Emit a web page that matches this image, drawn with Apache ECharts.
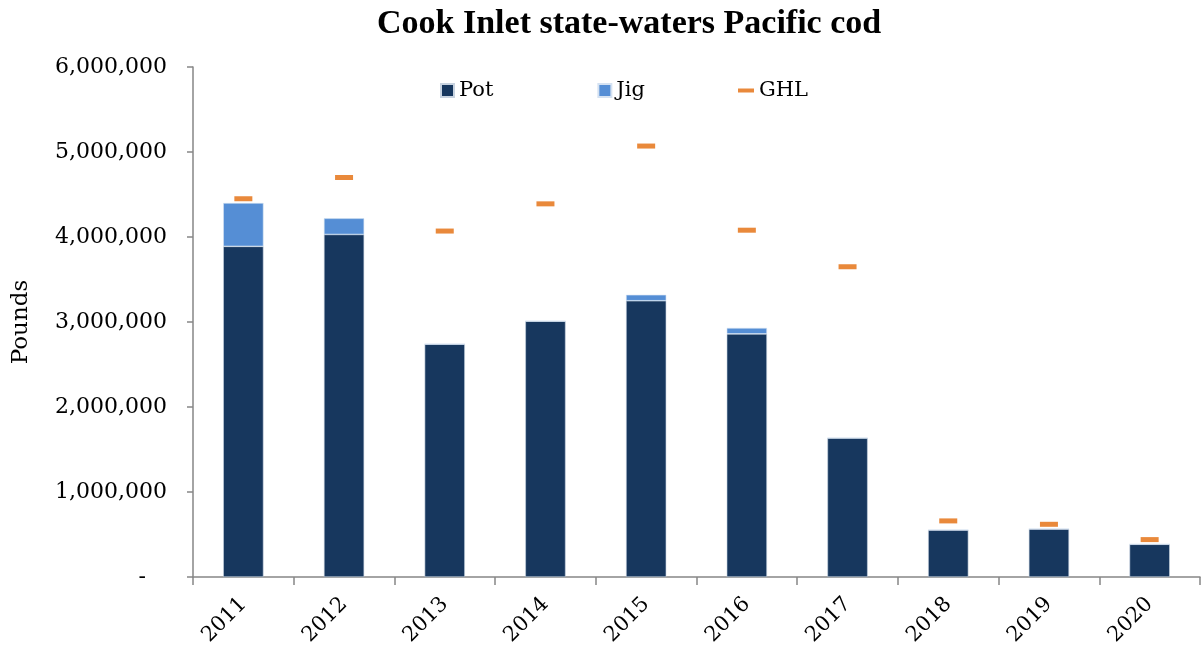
<!DOCTYPE html>
<html>
<head>
<meta charset="utf-8">
<script src="https://cdn.jsdelivr.net/npm/echarts@6/dist/echarts.min.js"></script>
<style>html,body{margin:0;padding:0;background:#fff}#c{width:1202px;height:658px}</style>
</head>
<body>
<div id="c"></div>
<script>
var years = ['2011','2012','2013','2014','2015','2016','2017','2018','2019','2020'];
var pot = [3890000, 4030000, 2740000, 3010000, 3250000, 2860000, 1635000, 553000, 565000, 385000];
var jig = [510000, 190000, 0, 0, 70000, 70000, 0, 0, 0, 0];
var ghl = [4450000, 4700000, 4070000, 4390000, 5070000, 4080000, 3650000, 660000, 620000, 440000];
var yTicks = [0, 1000000, 2000000, 3000000, 4000000, 5000000, 6000000];

var FONT = '"DejaVu Serif", "Liberation Serif", serif';
var TFONT = '"Liberation Serif", "DejaVu Serif", serif';
var chart = echarts.init(document.getElementById('c'));
chart.setOption({
  backgroundColor: '#fff',
  animation: false,
  title: {
    text: 'Cook Inlet state-waters Pacific cod',
    left: 372, top: 2,
    textStyle: {fontFamily: TFONT, fontWeight: 'bold', fontSize: 34, color: '#000'}
  },
  legend: [{
    data: ['Pot', 'Jig'],
    left: 435, top: 75,
    itemWidth: 13, itemHeight: 13, itemGap: 104,
    icon: 'rect',
    textStyle: {fontFamily: FONT, fontSize: 21, color: '#000'}
  }, {
    data: ['GHL'],
    left: 733, top: 75,
    itemWidth: 16, itemHeight: 4,
    icon: 'rect',
    textStyle: {fontFamily: FONT, fontSize: 21, color: '#000'}
  }],
  grid: {left: 193, right: 2, top: 67, bottom: 81, containLabel: false},
  xAxis: {
    type: 'category',
    data: years,
    axisLine: {lineStyle: {color: '#868686', width: 1.5}},
    axisTick: {show: true, length: 8, alignWithLabel: false, lineStyle: {color: '#868686', width: 1.5}},
    axisLabel: {rotate: 45, fontFamily: FONT, fontSize: 21, color: '#000', margin: 24}
  },
  yAxis: {
    type: 'value',
    min: yTicks[0], max: yTicks[yTicks.length-1], interval: 1000000,
    name: 'Pounds', nameLocation: 'middle', nameGap: 160, nameRotate: 90,
    nameTextStyle: {fontFamily: FONT, fontSize: 23, color: '#000'},
    axisLine: {show: true, lineStyle: {color: '#868686', width: 1.5}},
    axisTick: {show: true, length: 6, inside: false, lineStyle: {color: '#868686', width: 1.5}},
    splitLine: {show: false},
    axisLabel: {
      fontFamily: FONT, fontSize: 22, color: '#000', margin: 26,
      formatter: function (v) { return v === 0 ? '-   ' : v.toLocaleString('en-US'); }
    }
  },
  series: [{
    name: 'Pot', type: 'bar', stack: 'total', data: pot, barWidth: '40%',
    itemStyle: {color: '#17375E', borderColor: '#c8d3e0', borderWidth: 0.6}
  }, {
    name: 'Jig', type: 'bar', stack: 'total', data: jig, barWidth: '40%',
    itemStyle: {color: '#558ED5', borderColor: '#d5e2f2', borderWidth: 0.6}
  }, {
    name: 'GHL', type: 'scatter', data: ghl,
    symbol: 'rect', symbolSize: [18, 5],
    itemStyle: {color: '#E46C0A'}
  }]
});
</script>
</body>
</html>
